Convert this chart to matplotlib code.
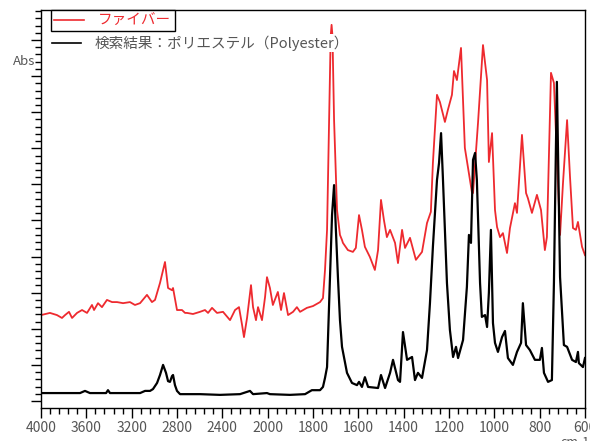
import numpy as np
import matplotlib
matplotlib.use("Agg")
import matplotlib.pyplot as plt
from matplotlib.lines import Line2D
from matplotlib.ticker import FixedLocator, MultipleLocator, NullFormatter

plt.rcParams['font.family'] = ['Noto Sans CJK JP', 'DejaVu Sans']

# ---- spectra (wavenumber cm-1, absorbance a.u.) ----
wn_fiber = [4000, 3921, 3859, 3815, 3788, 3753, 3726, 3682, 3638, 3594, 3550, 3532,
            3497, 3462, 3418, 3373, 3329, 3276, 3215, 3171, 3126, 3065, 3021, 2994,
            2950, 2906, 2879, 2844, 2835, 2800, 2773, 2756, 2729, 2712, 2659, 2597,
            2553, 2526, 2491, 2447, 2394, 2332, 2288, 2253, 2226, 2209, 2182, 2147,
            2129, 2103, 2085, 2050, 2023, 2006, 1990, 1977, 1955, 1941, 1928, 1910,
            1888, 1871, 1857, 1827, 1800, 1769, 1756, 1747, 1738, 1729, 1722, 1718, 1714,
            1707, 1694, 1681, 1672, 1668, 1646, 1624, 1611, 1597, 1584, 1571, 1549, 1527,
            1513, 1500, 1487, 1474, 1460, 1438, 1425, 1407, 1394, 1372, 1346, 1319,
            1297, 1280, 1271, 1253, 1240, 1218, 1205, 1187, 1178, 1165, 1147, 1130,
            1099, 1094, 1072, 1050, 1032, 1024, 1010, 997, 988, 975, 962, 944, 931,
            909, 900, 878, 860, 852, 834, 812, 794, 777, 768, 750, 737, 710, 697,
            679, 666, 653, 640, 631, 613, 600]
abs_fiber = [0.238, 0.244, 0.238, 0.230, 0.238, 0.247, 0.230, 0.244, 0.252, 0.244, 0.266, 0.252,
             0.271, 0.260, 0.280, 0.274, 0.274, 0.271, 0.274, 0.266, 0.271, 0.294, 0.274, 0.280,
             0.327, 0.385, 0.313, 0.307, 0.313, 0.252, 0.252, 0.252, 0.244, 0.244, 0.241, 0.247,
             0.252, 0.244, 0.258, 0.244, 0.247, 0.224, 0.252, 0.260, 0.211, 0.177, 0.230, 0.321,
             0.260, 0.224, 0.260, 0.224, 0.288, 0.343, 0.313, 0.266, 0.302, 0.252, 0.299, 0.238,
             0.247, 0.260, 0.247, 0.258, 0.263, 0.274, 0.285, 0.363, 0.474, 0.778, 1.010, 1.042, 1.010,
             0.778, 0.529, 0.460, 0.446, 0.438, 0.418, 0.413, 0.424, 0.515, 0.474, 0.427, 0.399, 0.363,
             0.418, 0.557, 0.501, 0.454, 0.474, 0.438, 0.382, 0.474, 0.424, 0.452, 0.391, 0.413,
             0.493, 0.524, 0.659, 0.848, 0.828, 0.773, 0.806, 0.848, 0.914, 0.889, 0.978, 0.701,
             0.579, 0.576, 0.770, 0.986, 0.889, 0.662, 0.742, 0.529, 0.482, 0.454, 0.465, 0.410, 0.479,
             0.548, 0.521, 0.737, 0.576, 0.562, 0.521, 0.571, 0.529, 0.418, 0.454, 0.909, 0.881, 0.460, 0.604,
             0.778, 0.620, 0.479, 0.474, 0.496, 0.427, 0.404]

wn_pet = [4000, 3656, 3612, 3568, 3426, 3409, 3391, 3126, 3082, 3038, 3012, 2976,
          2950, 2923, 2897, 2879, 2862, 2844, 2835, 2818, 2800, 2773, 2597, 2421,
          2244, 2156, 2129, 2006, 1990, 1902, 1835, 1805, 1769, 1756, 1747, 1738,
          1725, 1716, 1707, 1699, 1690, 1681, 1672, 1650, 1628, 1606, 1597, 1584,
          1571, 1557, 1513, 1500, 1482, 1460, 1447, 1425, 1416, 1403, 1385, 1363,
          1350, 1337, 1319, 1297, 1284, 1271, 1253, 1244, 1235, 1227, 1209, 1196,
          1182, 1169, 1160, 1138, 1121, 1112, 1103, 1094, 1085, 1077, 1063, 1055,
          1041, 1032, 1024, 1015, 1006, 997, 984, 966, 953, 940, 918, 900, 882,
          874, 860, 843, 821, 799, 790, 781, 763, 746, 737, 724, 710, 693, 679,
          657, 640, 631, 627, 609, 600]
abs_pet = [0.022, 0.022, 0.028, 0.022, 0.022, 0.030, 0.022, 0.022, 0.028, 0.028, 0.033, 0.050,
           0.072, 0.100, 0.078, 0.055, 0.053, 0.069, 0.072, 0.044, 0.028, 0.019, 0.019, 0.017,
           0.019, 0.028, 0.019, 0.022, 0.019, 0.017, 0.019, 0.030, 0.030, 0.039, 0.064, 0.094,
           0.343, 0.515, 0.598, 0.474, 0.343, 0.224, 0.150, 0.078, 0.050, 0.044, 0.053, 0.039,
           0.066, 0.039, 0.036, 0.072, 0.036, 0.078, 0.114, 0.058, 0.053, 0.191, 0.114, 0.122,
           0.058, 0.078, 0.064, 0.141, 0.271, 0.427, 0.612, 0.659, 0.742, 0.620, 0.327, 0.197,
           0.122, 0.150, 0.119, 0.169, 0.316, 0.460, 0.438, 0.668, 0.687, 0.612, 0.327, 0.233,
           0.238, 0.205, 0.300, 0.474, 0.216, 0.161, 0.136, 0.177, 0.194, 0.119, 0.100, 0.136, 0.161,
           0.271, 0.155, 0.141, 0.114, 0.114, 0.147, 0.078, 0.053, 0.058, 0.327, 0.884, 0.343, 0.155, 0.150,
           0.114, 0.108, 0.136, 0.105, 0.094, 0.119]

label_fiber = 'ファイバー'
label_pet = '検索結果：ポリエステル（Polyester）'
xticks_major = [4000, 3600, 3200, 2800, 2400, 2000, 1800, 1600, 1400, 1200, 1000, 800, 600]


# FTIR style axis: 4000-2000 drawn at half the scale of 2000-600
def fwd(w):
    w = np.asarray(w, dtype=float)
    return np.where(w > 2000, 2000 + (w - 2000) / 2.0, w)


def inv(f):
    f = np.asarray(f, dtype=float)
    return np.where(f > 2000, 2000 + (f - 2000) * 2.0, f)


fig = plt.figure(figsize=(5.9, 4.41), dpi=100)
ax = fig.add_axes([0.0695, 0.0748, 0.922, 0.9025])

ax.plot(wn_fiber, abs_fiber, color='#ee2a2f', lw=1.3)
ax.plot(wn_pet, abs_pet, color='black', lw=1.6)

ax.set_xscale('function', functions=(fwd, inv))
ax.set_xlim(4000, 600)
ax.set_ylim(-0.0194, 1.083)

minors = list(np.arange(4000, 2000, -80)) + list(np.arange(2000, 599, -40))
ax.xaxis.set_major_locator(FixedLocator(xticks_major))
ax.xaxis.set_minor_locator(FixedLocator(minors))
ax.yaxis.set_major_locator(MultipleLocator(0.1))
ax.yaxis.set_minor_locator(MultipleLocator(0.02))
ax.yaxis.set_major_formatter(NullFormatter())

ax.tick_params(axis='both', which='major', direction='out', length=7, width=1, color='black',
               labelsize=10, labelcolor='#555555')
ax.tick_params(axis='both', which='minor', direction='out', length=4, width=1, color='black')
ax.tick_params(axis='x', pad=2)
for s in ax.spines.values():
    s.set_linewidth(1)

fig.text(0.060, 0.860, 'Abs', ha='right', va='center', fontsize=9.5, color='#555555')
fig.text(0.950, 0.012, 'cm-1', ha='left', va='top', fontsize=9, color='#555555')

h1 = [Line2D([], [], color='#ee2a2f', lw=1.2)]
leg1 = ax.legend(h1, [label_fiber], loc='upper left', bbox_to_anchor=(0.018, 1.0),
                 frameon=True, fancybox=False, edgecolor='black', framealpha=1,
                 fontsize=10.5, handlelength=2.0, handletextpad=1.0, borderpad=0.25,
                 borderaxespad=0)
leg1.get_frame().set_linewidth(1)
leg1.get_texts()[0].set_color('#ee2a2f')
ax.add_artist(leg1)

h2 = [Line2D([], [], color='black', lw=1.2)]
leg2 = ax.legend(h2, [label_pet], loc='upper left', bbox_to_anchor=(0.018, 0.94),
                 frameon=True, fancybox=False, edgecolor='none', facecolor='white',
                 framealpha=1, fontsize=10.5, handlelength=2.0, handletextpad=0.9,
                 borderpad=0.1, borderaxespad=0)
leg2.get_texts()[0].set_color('#555555')

fig.savefig('out.png', dpi=100)
